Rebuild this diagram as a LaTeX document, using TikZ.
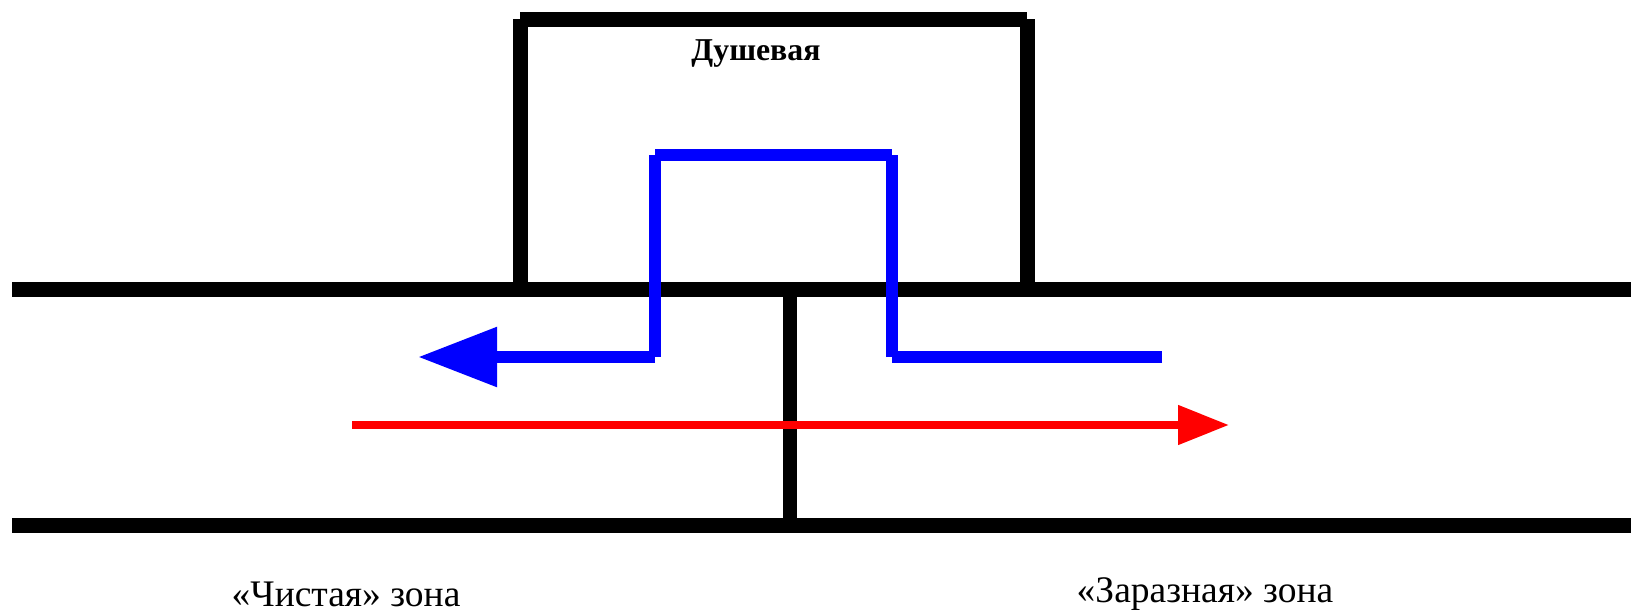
\documentclass[tikz,border=0pt]{standalone}
\usepackage{fontspec}
\setmainfont{Liberation Serif}
\usetikzlibrary{arrows.meta}
\begin{document}
\begin{tikzpicture}[x=1pt,y=-1pt,
  wall/.style={line width=15pt, black, line cap=butt},
  flow/.style={line width=12pt, blue, line cap=butt},
  through/.style={line width=8pt, red},
  lbl/.style={inner sep=0pt, font=\fontsize{37.5}{44}\selectfont}]
\useasboundingbox (0,0) rectangle (1631,611);
% walls
\coordinate (ml) at (12,289); \coordinate (mr) at (1631,289);
\coordinate (bl) at (12,525); \coordinate (br) at (1631,525);
\coordinate (dt) at (790,289); \coordinate (db) at (790,525);
\coordinate (btl) at (520,19); \coordinate (btr) at (1027,19);
\coordinate (bbl) at (520,289); \coordinate (bbr) at (1027,289);
\draw[wall] (ml) -- (mr);
\draw[wall] (bl) -- (br);
\draw[wall, line width=14pt] (dt) -- (db);
\draw[wall] (btl) -- (btr);
\draw[wall] (btl) -- (bbl);
\draw[wall] (btr) -- (bbr);
% blue flow
\coordinate (f0) at (1162,357); \coordinate (f1) at (892,357);
\coordinate (f2) at (892,155); \coordinate (f3) at (655,155);
\coordinate (f4) at (655,357); \coordinate (f5) at (418,357);
\draw[flow] (f0) -- (f1);
\draw[flow] (f1) -- (f2);
\draw[flow] (f2) -- (f3);
\draw[flow] (f3) -- (f4);
\draw[flow, -{Triangle[length=79pt,width=57pt]}] (f4) -- (f5);
% red flow
\coordinate (r0) at (352,425); \coordinate (r1) at (1229,425);
\draw[through, -{Triangle[length=51pt,width=38pt]}] (r0) -- (r1);
% labels
\node[inner sep=0pt, font=\fontsize{31.8}{38}\selectfont\bfseries] (shower) at (756,54) {Душевая};
\node[lbl] (clean) at (346,594) {«Чистая» зона};
\node[lbl] (dirty) at (1205,594) {«Заразная» зона};
\end{tikzpicture}
\end{document}
